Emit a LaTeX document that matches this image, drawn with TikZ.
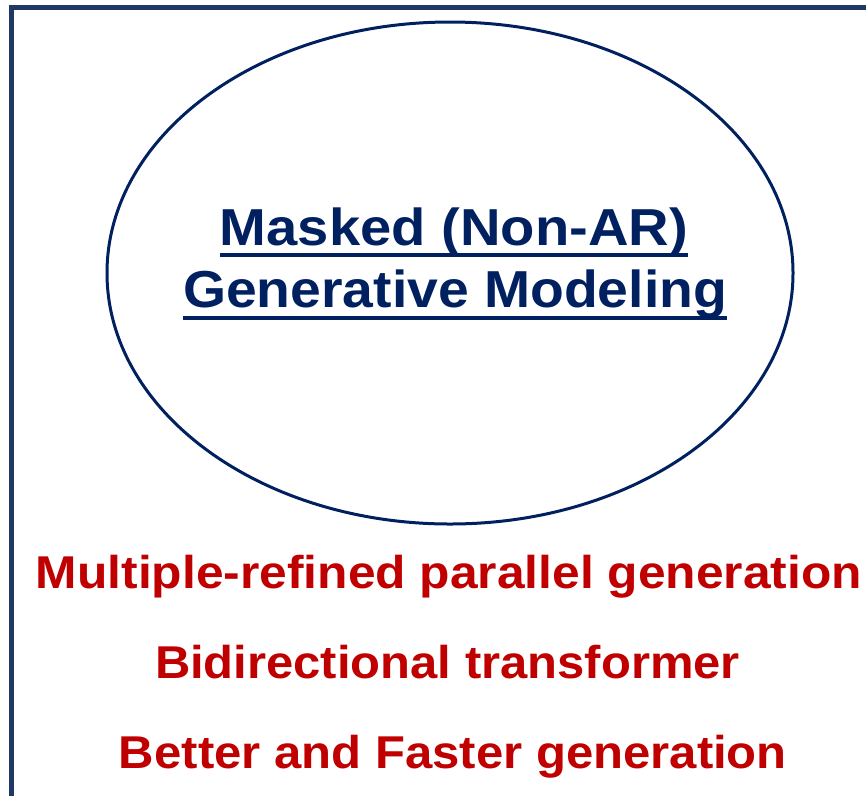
\documentclass[tikz,border=0pt]{standalone}
\usepackage{fontspec}
\usepackage{graphicx}
\setmainfont{Liberation Sans}
\usetikzlibrary{shapes.geometric}
\definecolor{navy}{RGB}{0,32,96}
\definecolor{framec}{RGB}{31,56,100}
\definecolor{darkred}{RGB}{192,0,0}
\tikzset{
  title/.style={inner sep=0pt, anchor=base, text=navy, font=\fontsize{52}{60}\selectfont\bfseries},
  redline/.style={inner sep=0pt, anchor=base, text=darkred, font=\fontsize{46}{54}\selectfont\bfseries},
  uline/.style={navy, line width=3.5pt}
}
\begin{document}
\begin{tikzpicture}[x=1pt,y=1pt]
\useasboundingbox (0,0) rectangle (866,-796);
\coordinate (fb) at (11,-796);
\coordinate (fc) at (11,-7);
\coordinate (fr) at (866,-7);
\draw[framec, line width=5pt] (fb) -- (fc) -- (fr);
\node[ellipse, draw=navy, line width=3pt, minimum width=686pt, minimum height=502pt, inner sep=0pt] (ell) at (450,-273) {};
\node[title] (t1) at (454,-245) {\resizebox{468pt}{\height}{Masked (Non-AR)}};
\node[title] (t2) at (455,-307) {\resizebox{544pt}{\height}{Generative Modeling}};
\draw[uline] ([yshift=-10pt]t1.base west) -- ([yshift=-10pt]t1.base east);
\draw[uline] ([yshift=-11pt]t2.base west) -- ([yshift=-11pt]t2.base east);
\node[redline] (r1) at (449,-588) {\resizebox{826pt}{\height}{Multiple-refined parallel generation}};
\node[redline] (r2) at (447.5,-678) {\resizebox{585pt}{\height}{Bidirectional transformer}};
\node[redline] (r3) at (453,-768) {\resizebox{668pt}{\height}{Better and Faster generation}};
\end{tikzpicture}
\end{document}
